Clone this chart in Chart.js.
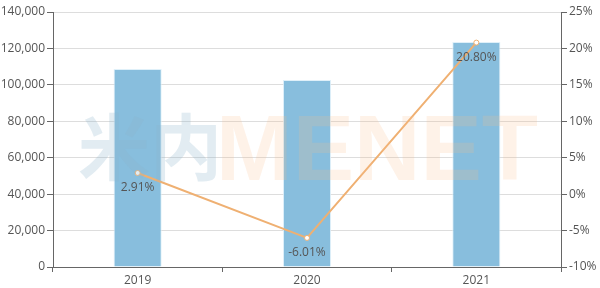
<!DOCTYPE html>
<html><head><meta charset="utf-8">
<script src="https://cdn.jsdelivr.net/npm/chart.js@4/dist/chart.umd.min.js"></script>
<style>html,body{margin:0;padding:0;background:#fff}#wrap{width:600px;height:288px}</style>
</head><body><div id="wrap"><canvas id="c" width="600" height="288"></canvas></div>
<script>
const categories = ['2019', '2020', '2021'];
const salesValues = [108700, 102700, 123500];
const growthRates = [2.91, -6.01, 20.80];
const leftTicks = [0, 20000, 40000, 60000, 80000, 100000, 120000, 140000];
const rightTicks = [-10, -5, 0, 5, 10, 15, 20, 25];

const FONT = "'Open Sans', 'Noto Sans', sans-serif";
const TXT = '#555';

const watermark = {
  id: 'watermark',
  afterDatasetsDraw(chart) {
    const c = chart.ctx;
    c.save();
    c.font = "bold 72px 'Noto Sans CJK SC'";
    c.fillStyle = 'rgba(140,180,205,0.25)';
    c.textBaseline = 'middle';
    c.textAlign = 'left';
    c.fillText('米内', 78, 147);
    c.font = "bold 92px 'Liberation Sans'";
    c.fillStyle = 'rgba(250,190,140,0.2)';
    c.textBaseline = 'alphabetic';
    c.fillText('MENET', 216, 180);
    c.restore();
  }
};

const lineLabels = {
  id: 'lineLabels',
  afterDraw(chart) {
    const meta = chart.getDatasetMeta(1);
    const c = chart.ctx;
    c.save();
    c.font = '12px ' + FONT;
    c.fillStyle = TXT;
    c.textAlign = 'center';
    c.textBaseline = 'middle';
    meta.data.forEach((p, i) => {
      c.fillText(growthRates[i].toFixed(2) + '%', p.x, p.y + 15);
    });
    c.restore();
  }
};

new Chart(document.getElementById('c'), {
  data: {
    labels: categories,
    datasets: [
      {
        type: 'bar', data: salesValues, yAxisID: 'y',
        backgroundColor: '#88BEDD', borderColor: 'rgba(220,238,248,0.9)', borderWidth: 1,
        categoryPercentage: 1, barPercentage: 0.284, order: 2
      },
      {
        type: 'line', data: growthRates, yAxisID: 'y1',
        borderColor: '#EFB072', borderWidth: 2, pointRadius: 2.5,
        pointBackgroundColor: '#fff', pointBorderColor: '#EFB072', pointBorderWidth: 1,
        tension: 0, order: 1
      }
    ]
  },
  options: {
    responsive: false, animation: false,
    layout: { padding: { top: 12, left: 0, right: 0, bottom: 0 } },
    plugins: { legend: { display: false }, tooltip: { enabled: false } },
    scales: {
      x: {
        grid: { offset: true, drawOnChartArea: false, tickLength: 5, tickColor: '#666' },
        border: { color: '#666', width: 1 },
        ticks: { color: TXT, font: { family: FONT, size: 12 }, padding: 1 },
        afterFit(s) { s.height = 21; }
      },
      y: {
        position: 'left', min: 0, max: 140000,
        afterBuildTicks(s) { s.ticks = leftTicks.map(v => ({ value: v })); },
        grid: { color: '#ddd', tickColor: '#666', tickLength: 6 },
        border: { color: '#666', width: 1 },
        ticks: { color: TXT, font: { family: FONT, size: 12 }, padding: 2,
          callback: v => v.toLocaleString('en-US') },
        afterFit(s) { s.width = 53; }
      },
      y1: {
        position: 'right', min: -10, max: 25,
        afterBuildTicks(s) { s.ticks = rightTicks.map(v => ({ value: v })); },
        grid: { drawOnChartArea: false, tickColor: '#666', tickLength: 6 },
        border: { color: '#666', width: 1 },
        ticks: { color: TXT, font: { family: FONT, size: 12 }, padding: 2,
          callback: v => v + '%' },
        afterFit(s) { s.width = 39; }
      }
    }
  },
  plugins: [watermark, lineLabels]
});
</script></body></html>
